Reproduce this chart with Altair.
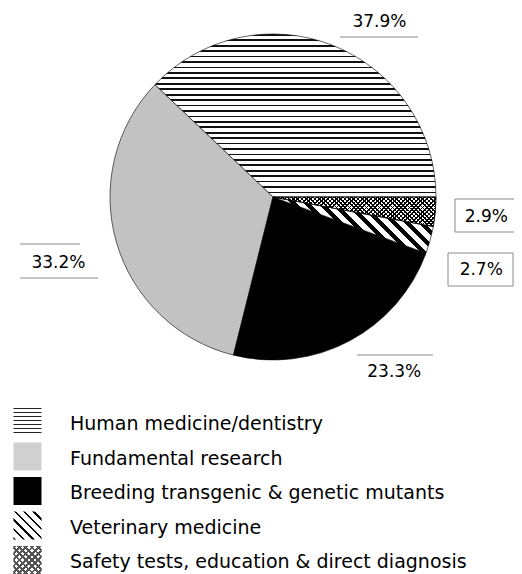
import math
import altair as alt
import pandas as pd

# ---- data ----
categories = [
    "Human medicine/dentistry",
    "Fundamental research",
    "Breeding transgenic & genetic mutants",
    "Veterinary medicine",
    "Safety tests, education & direct diagnosis",
]
values = [37.9, 33.2, 23.3, 2.7, 2.9]
labels = ["37.9%", "33.2%", "23.3%", "2.7%", "2.9%"]
# clockwise order starting from 3 o'clock
pie_order = [5, 4, 3, 2, 1]

df = pd.DataFrame({"category": categories, "value": values, "label": labels, "order": pie_order})

# ---- styles ----
FONT = "DejaVu Sans"
CX, CY, R = 265, 189, 163


def stripes(n, line, bg, frac, x1=0, y1=0, x2=0, y2=1):
    stops = []
    for i in range(n):
        a = i / n
        b = (i + frac) / n
        c = (i + 1) / n
        stops += [
            {"offset": a, "color": line},
            {"offset": b, "color": line},
            {"offset": b, "color": bg},
            {"offset": c, "color": bg},
        ]
    return {"gradient": "linear", "x1": x1, "y1": y1, "x2": x2, "y2": y2, "stops": stops}


slice_fill = {
    categories[0]: [stripes(30, "#111111", "#ffffff", 0.32)],
    categories[1]: ["#c2c2c2"],
    categories[2]: ["#000000"],
    categories[3]: [stripes(16, "#000000", "#ffffff", 0.45, 0, 1, 1.2, 0.58)],
    categories[4]: [
        stripes(45, "#000000", "#ffffff", 0.4, 0, 1, 1.15, 0.79),
        stripes(45, "#000000", "rgba(255,255,255,0)", 0.4, 0, 0, 1.15, 0.21),
    ],
}
swatch_fill = {
    categories[0]: [stripes(7, "#222222", "#ffffff", 0.28)],
    categories[1]: ["#d0d0d0"],
    categories[2]: ["#000000"],
    categories[3]: [stripes(6, "#000000", "#ffffff", 0.25, 0, 1, 1, 0)],
    categories[4]: [
        stripes(9, "#555555", "#ffffff", 0.45, 0, 0, 1, 1),
        stripes(9, "#555555", "rgba(255,255,255,0)", 0.45, 0, 1, 1, 0),
    ],
}
label_offsets = {
    categories[0]: (46, -24),
    categories[1]: (-58, 21),
    categories[2]: (45, 31),
    categories[3]: (51, 30),
    categories[4]: (51, 5),
}

theta_scale = alt.Scale(domain=[0, 100], range=[math.pi / 2, math.pi / 2 + 2 * math.pi])
legend_y = alt.Scale(domain=categories, range=[414, 552], padding=0)

base = (
    alt.Chart(df)
    .transform_window(cum="sum(value)", sort=[alt.SortField("order")], frame=[None, 0])
    .transform_calculate(start="datum.cum - datum.value", mid="datum.cum - datum.value / 2")
)

layers = []
for cat in categories:
    for f in slice_fill[cat]:
        layers.append(
            base.transform_filter(alt.datum.category == cat)
            .mark_arc(outerRadius=R, fill=f, stroke="#000000", strokeWidth=0.6)
            .encode(
                theta=alt.Theta("start:Q", scale=theta_scale, stack=None),
                theta2="cum:Q",
                x=alt.value(CX),
                y=alt.value(CY),
            )
        )

for cat in categories:
    dx, dy = label_offsets[cat]
    layers.append(
        base.transform_filter(alt.datum.category == cat)
        .mark_text(font=FONT, fontSize=17, color="#000000", align="center", baseline="middle", dx=dx, dy=dy)
        .encode(
            theta=alt.Theta("mid:Q", scale=theta_scale, stack=None),
            radius=alt.value(R),
            x=alt.value(CX),
            y=alt.value(CY),
            text="label:N",
        )
    )

# decorative frames / rules around the labels (page coords - 8)
frame_lines = [
    (332, 410, 29, 29),
    (12, 72, 236, 236),
    (12, 90, 270, 270),
    (349, 425, 347, 347),
    (447, 510, 191, 191),
    (447, 510, 224, 224),
    (447, 447, 191, 224),
    (510, 510, 189, 227),
    (440, 505, 245, 245),
    (440, 505, 278, 278),
    (440, 440, 245, 278),
    (505, 505, 245, 278),
]
for x1, x2, y1, y2 in frame_lines:
    layers.append(
        alt.Chart(df.head(1))
        .mark_rule(color="#8a8a8a", strokeWidth=1)
        .encode(x=alt.value(x1), x2=alt.value(x2), y=alt.value(y1), y2=alt.value(y2))
    )

# legend
for cat in categories:
    for f in swatch_fill[cat]:
        layers.append(
            alt.Chart(df)
            .transform_filter(alt.datum.category == cat)
            .mark_square(size=784, fill=f, strokeWidth=0, opacity=1)
            .encode(x=alt.value(19.5), y=alt.Y("category:N", scale=legend_y, axis=None))
        )
layers.append(
    alt.Chart(df)
    .mark_text(font=FONT, fontSize=19, color="#000000", align="left", baseline="middle", dy=2)
    .encode(x=alt.value(62), y=alt.Y("category:N", scale=legend_y, axis=None), text="category:N")
)

chart = (
    alt.layer(*layers)
    .properties(width=506, height=566, padding=0, autosize=alt.AutoSizeParams(type="none"))
    .configure_view(stroke=None)
)

chart.save("out.html", embed_options={"renderer": "svg", "actions": False})
